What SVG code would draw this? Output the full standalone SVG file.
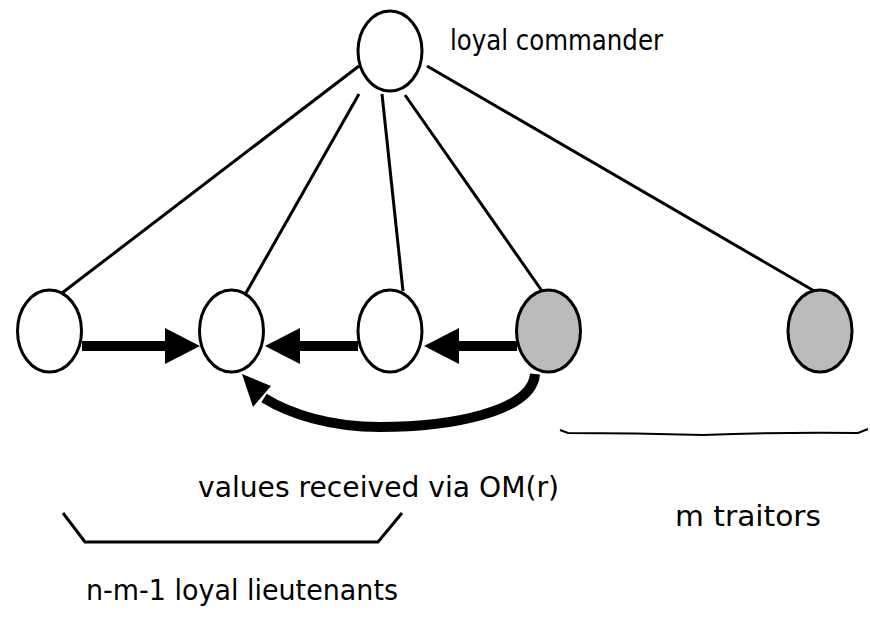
<svg xmlns="http://www.w3.org/2000/svg" width="870" height="618" viewBox="0 0 870 618">
<style>
.node{fill:#fff;stroke:#000;stroke-width:3}
.traitor{fill:#bbb;stroke:#000;stroke-width:3}
.edge{stroke:#000;stroke-width:3;fill:none}
.msg{stroke:#000;stroke-width:10;fill:none}
.head{fill:#000}
.lbl{font-family:"DejaVu Sans","Liberation Sans",sans-serif;font-size:29px;fill:#000}
</style>
<rect width="870" height="618" fill="#fff"/>
<g id="connectors">
<line class="edge" x1="359" y1="66" x2="62" y2="293"/>
<line class="edge" x1="359" y1="94" x2="246" y2="293"/>
<line class="edge" x1="382" y1="94" x2="403" y2="291"/>
<line class="edge" x1="405" y1="95" x2="542" y2="291"/>
<line class="edge" x1="427" y1="66" x2="816" y2="292"/>
<line class="msg" x1="82" y1="346" x2="167" y2="346"/>
<polygon class="head" points="200,346 165,328 165,364"/>
<line class="msg" x1="358" y1="346" x2="298" y2="346"/>
<polygon class="head" points="265,346 300,328 300,364"/>
<line class="msg" x1="517" y1="346" x2="457" y2="346"/>
<polygon class="head" points="424,346 459,328 459,364"/>
<path class="msg" d="M535 374 C532 412 450 427 380 427 C330 427 290 414 264 398"/>
<polygon class="head" points="242,374 271,386 253,407"/>
</g>
<g id="commander">
<ellipse class="node" cx="390" cy="51" rx="32" ry="40"/>
<text class="lbl" x="450" y="50" textLength="213" lengthAdjust="spacingAndGlyphs">loyal commander</text>
</g>
<g id="lieutenant1"><ellipse class="node" cx="49.5" cy="331" rx="32" ry="41"/></g>
<g id="lieutenant2"><ellipse class="node" cx="231.5" cy="331" rx="32" ry="41"/></g>
<g id="lieutenant3"><ellipse class="node" cx="390" cy="331" rx="32" ry="41"/></g>
<g id="traitor1"><ellipse class="traitor" cx="548.5" cy="331" rx="32" ry="41"/></g>
<g id="traitor2"><ellipse class="traitor" cx="820" cy="331" rx="32" ry="41"/></g>
<g id="traitor-brace">
<path d="M560 430 L568 433 Q635 433 703 435 Q780 432 858 433 L868 429" fill="none" stroke="#000" stroke-width="2"/>
<text class="lbl" x="675" y="526" textLength="146" lengthAdjust="spacingAndGlyphs">m traitors</text>
</g>
<g id="values-label">
<text class="lbl" x="198" y="497" textLength="361" lengthAdjust="spacingAndGlyphs">values received via OM(r)</text>
</g>
<g id="loyal-bracket">
<path d="M63 513 L85 542 L378 542 L402 513" fill="none" stroke="#000" stroke-width="3"/>
<text class="lbl" x="86" y="600" textLength="312" lengthAdjust="spacingAndGlyphs">n-m-1 loyal lieutenants</text>
</g>
</svg>
